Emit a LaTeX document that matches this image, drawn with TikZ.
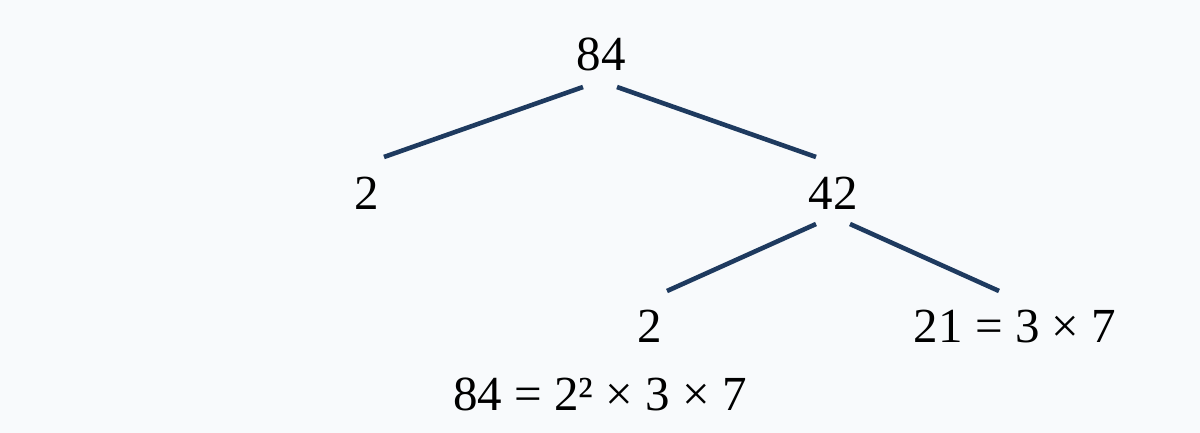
\documentclass[tikz,border=0pt]{standalone}
\usepackage{fontspec}
\setmainfont{Liberation Serif}
\definecolor{bgcol}{HTML}{F8FAFC}
\definecolor{branchcol}{HTML}{1E3A5F}
\tikzset{
	num/.style={anchor=base, inner sep=0pt, text=black, font=\fontsize{24.5}{28}\selectfont},
	branch/.style={draw=branchcol, line width=2.3pt}
}
\begin{document}
\begin{tikzpicture}[x=0.5pt,y=-0.5pt]
			\useasboundingbox[fill=bgcol] (0,0) rectangle (1200,433);
			\node[num] (n84) at (601,71) {84};
			\node[num] (n2a) at (367,209) {2};
			\node[num] (n42) at (833,209) {42};
			\node[num] (n2b) at (650,342) {2};
			\node[num] (n21) at (1015,342) {21 = 3 × 7};
			\node[num] (res) at (600,410) {84 = 2² × 3 × 7};
			\draw[branch] ([shift={(-18,16)}]n84.base)--([shift={(17,-52)}]n2a.base);
			\draw[branch] ([shift={(16,16)}]n84.base)--([shift={(-17,-52)}]n42.base);
			\draw[branch] ([shift={(-17,15)}]n42.base)--([shift={(17,-51)}]n2b.base);
			\draw[branch] ([shift={(17,15)}]n42.base)--([shift={(-16,-51)}]n21.base);
		\end{tikzpicture}
\end{document}
